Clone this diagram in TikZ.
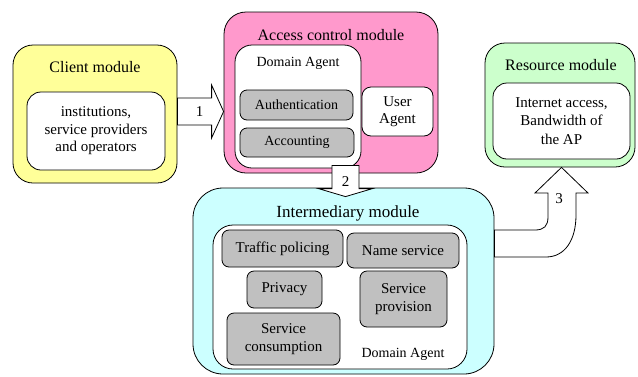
\documentclass[tikz,border=0pt]{standalone}
\usepackage{fontspec}
\setmainfont{LiberationSerif}[Extension=.ttf, UprightFont=*-Regular, BoldFont=*-Bold, ItalicFont=*-Italic, BoldItalicFont=*-BoldItalic]
\usetikzlibrary{calc}
\definecolor{cyel}{HTML}{FFFF99}
\definecolor{cpink}{HTML}{FF99CC}
\definecolor{ccyan}{HTML}{CCFFFF}
\definecolor{cgreen}{HTML}{CCFFCC}
\definecolor{cgray}{HTML}{C0C0C0}
\tikzset{
  box/.style={draw, line width=0.8pt, inner sep=0pt, align=center},
  module/.style={box, rounded corners=20pt},
  whitebox/.style={box, fill=white, rounded corners=14pt},
  graybox/.style={box, fill=cgray, rounded corners=7pt},
  title/.style={font=\rmfamily\fontsize{16}{19}\selectfont, inner sep=0pt},
  txt/.style={font=\rmfamily\fontsize{15}{17.5}\selectfont},
  small/.style={font=\rmfamily\fontsize{14}{17}\selectfont},
  blockarrow/.style={draw, fill=white, line width=0.8pt, line join=miter},
  num/.style={font=\rmfamily\fontsize{15}{17}\selectfont, inner sep=0pt}
}
\begin{document}
\begin{tikzpicture}[x=1pt,y=-1pt]
\useasboundingbox (0,0) rectangle (638,376);
% Client module
\node[module, fill=cyel, minimum width=164pt, minimum height=138pt] (client) at (95,114) {};
\node[title] (clientT) at (95,67) {Client module};
\node[whitebox, txt, minimum width=138pt, minimum height=78pt] (clientI) at (96,131) {institutions,\\service providers\\and operators};
% Access control module
\node[module, fill=cpink, rounded corners=22pt, minimum width=214pt, minimum height=161pt] (access) at (331,92.5) {};
\node[title] (accessT) at (331,35) {Access control module};
\node[whitebox, rounded corners=17pt, minimum width=126pt, minimum height=123pt] (dagent) at (298,106.5) {};
\node[small, inner sep=0pt] (dagentT) at (298,63) {Domain Agent};
\node[graybox, small, minimum width=113pt, minimum height=30pt] (auth) at (296.5,105) {Authentication};
\node[graybox, small, minimum width=114pt, minimum height=29pt] (acct) at (297,142.5) {Accounting};
\node[whitebox, font=\rmfamily\fontsize{15}{17}\selectfont, rounded corners=9pt, minimum width=71pt, minimum height=49pt] (uagent) at (397.5,111.5) {User\\Agent};
% Resource module
\node[module, fill=cgreen, minimum width=150pt, minimum height=124pt] (res) at (560,105) {};
\node[title] (resT) at (561,65) {Resource module};
\node[whitebox, font=\rmfamily\fontsize{15}{18.5}\selectfont, minimum width=137pt, minimum height=76pt] (resI) at (561.5,121) {Internet access,\\Bandwidth of\\the AP};
% Intermediary module
\node[module, fill=ccyan, rounded corners=30pt, minimum width=301pt, minimum height=186pt] (inter) at (343.5,281) {};
\node[title, font=\rmfamily\fontsize{17}{20}\selectfont] (interT) at (348,213) {Intermediary module};
\node[whitebox, rounded corners=20pt, minimum width=254pt, minimum height=144pt] (interI) at (340,297) {};
\node[graybox, txt, minimum width=121pt, minimum height=37pt] (traffic) at (282.5,248.5) {Traffic policing};
\node[graybox, txt, minimum width=112pt, minimum height=35pt] (name) at (403,250.5) {Name service};
\node[graybox, txt, minimum width=75pt, minimum height=37pt] (privacy) at (284.5,289.5) {Privacy};
\node[graybox, font=\rmfamily\fontsize{15}{18.5}\selectfont, minimum width=87pt, minimum height=56pt] (sprov) at (403.5,299) {Service\\provision};
\node[graybox, font=\rmfamily\fontsize{15}{18}\selectfont, minimum width=113pt, minimum height=52pt] (scons) at (283.5,339) {Service\\consumption};
\node[small, inner sep=0pt] (interDA) at (403,354) {Domain Agent};
% Arrow 1: client -> access
\coordinate (a1s) at ($(client.east)+(0,-2.5)$);
\coordinate (a1t) at (access.west |- a1s);
\draw[blockarrow] ($(a1s)+(0,-13.5)$) -- ($(a1t)+(-12,-13.5)$) -- ($(a1t)+(-12,-26.5)$) -- (a1t)
  -- ($(a1t)+(-12,26.5)$) -- ($(a1t)+(-12,13.5)$) -- ($(a1s)+(0,13.5)$) -- cycle;
\node[num] (n1) at ($(a1s)!0.5!(a1t)+(-1,0)$) {1};
% Arrow 2: access -> intermediary
\coordinate (a2s) at ($(access.south)+(14.5,-8)$);
\coordinate (a2t) at ($(inter.north)+(2,9)$);
\draw[blockarrow] ($(a2s)+(-13.5,0)$) -- ($(a2t)+(-13.5,-8)$) -- ($(a2t)+(-27,-8)$) -- (a2t)
  -- ($(a2t)+(27,-8)$) -- ($(a2t)+(13.5,-8)$) -- ($(a2s)+(13.5,0)$) -- cycle;
\node[num] (n2) at ($(a2t)+(0,-15.5)$) {2};
% Arrow 3: intermediary -> resource
\coordinate (a3s) at (inter.east |- 0,230);
\coordinate (a3t) at ($(res.south)+(1.5,0)$);
\draw[blockarrow] (a3s) -- (535,230) .. controls (544,230) and (548,226) .. (548,217)
  -- (548,193) -- (535,193) -- (a3t) -- (588,193) -- (576,193) -- (576,215)
  .. controls (576,240) and (565,257) .. (546,257) -- (inter.east |- 0,257) -- cycle;
\node[num] (n3) at (559,199) {3};
\end{tikzpicture}
\end{document}
